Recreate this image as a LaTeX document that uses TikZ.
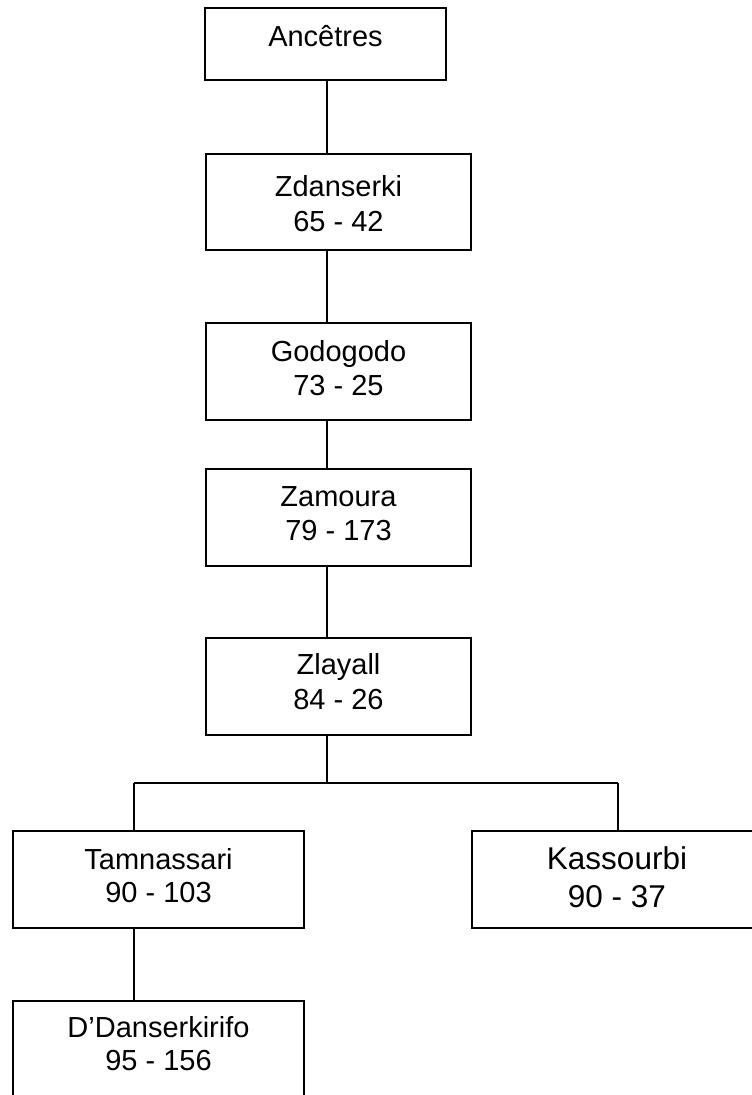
\documentclass[tikz,border=0pt]{standalone}
\usepackage{fontspec}
\setmainfont{Liberation Sans}
\begin{document}
\begin{tikzpicture}[x=1pt,y=-1pt,
  box/.style={draw=black,line width=1.6pt,fill=white,inner sep=0pt},
  txt/.style={inner sep=0pt,anchor=base,font=\fontsize{29}{34}\selectfont},
  bigtxt/.style={inner sep=0pt,anchor=base,font=\fontsize{31.5}{38}\selectfont},
  link/.style={draw=black,line width=1.6pt}]
\clip (0,0) rectangle (752,1095);
\fill[white] (0,0) rectangle (752,1095);
% boxes
\node[box,minimum width=241pt,minimum height=72pt] (anc) at (325.5,44) {};
\node[box,minimum width=265pt,minimum height=96pt] (zd) at (338.5,202) {};
\node[box,minimum width=265pt,minimum height=97pt] (go) at (338.5,371.5) {};
\node[box,minimum width=265pt,minimum height=97pt] (za) at (338.5,517.5) {};
\node[box,minimum width=265pt,minimum height=97pt] (zl) at (338.5,686.5) {};
\node[box,minimum width=291pt,minimum height=97pt] (ta) at (158.5,879.5) {};
\node[box,minimum width=290pt,minimum height=97pt] (ka) at (617,879.5) {};
\node[box,minimum width=291pt,minimum height=97pt] (dd) at (158.5,1049.5) {};
% texts
\node[txt] (anct) at ([yshift=-39pt]anc.north) {Ancêtres};
\node[txt] (zdt) at ([yshift=-43pt]zd.north) {Zdanserki};
\node[txt] (zdn) at ([yshift=-78pt]zd.north) {65 - 42};
\node[txt] (got) at ([yshift=-39pt]go.north) {Godogodo};
\node[txt] (gon) at ([yshift=-73pt]go.north) {73 - 25};
\node[txt] (zat) at ([yshift=-38pt]za.north) {Zamoura};
\node[txt] (zan) at ([yshift=-72pt]za.north) {79 - 173};
\node[txt] (zlt) at ([yshift=-37pt]zl.north) {Zlayall};
\node[txt] (zln) at ([yshift=-72pt]zl.north) {84 - 26};
\node[txt] (tat) at ([yshift=-39pt]ta.north) {Tamnassari};
\node[txt] (tan) at ([yshift=-72pt]ta.north) {90 - 103};
\node[bigtxt] (kat) at ([yshift=-39pt]ka.north) {Kassourbi};
\node[bigtxt] (kan) at ([yshift=-77pt]ka.north) {90 - 37};
\node[txt] (ddt) at ([yshift=-37pt]dd.north) {D’Danserkirifo};
\node[txt] (ddn) at ([yshift=-70pt]dd.north) {95 - 156};
% junctions
\coordinate (j) at (327,783);
\coordinate (jl) at (134,783);
\coordinate (jr) at (618,783);
% connectors
\draw[link] (anc.south -| j) -- (zd.north -| j);
\draw[link] (zd.south -| j) -- (go.north -| j);
\draw[link] (go.south -| j) -- (za.north -| j);
\draw[link] (za.south -| j) -- (zl.north -| j);
\draw[link] (zl.south -| j) -- (j);
\draw[link] (jl) -- (jr);
\draw[link] (jl) -- (ta.north -| jl);
\draw[link] (jr) -- (ka.north -| jr);
\draw[link] (ta.south -| jl) -- (dd.north -| jl);
\end{tikzpicture}
\end{document}
